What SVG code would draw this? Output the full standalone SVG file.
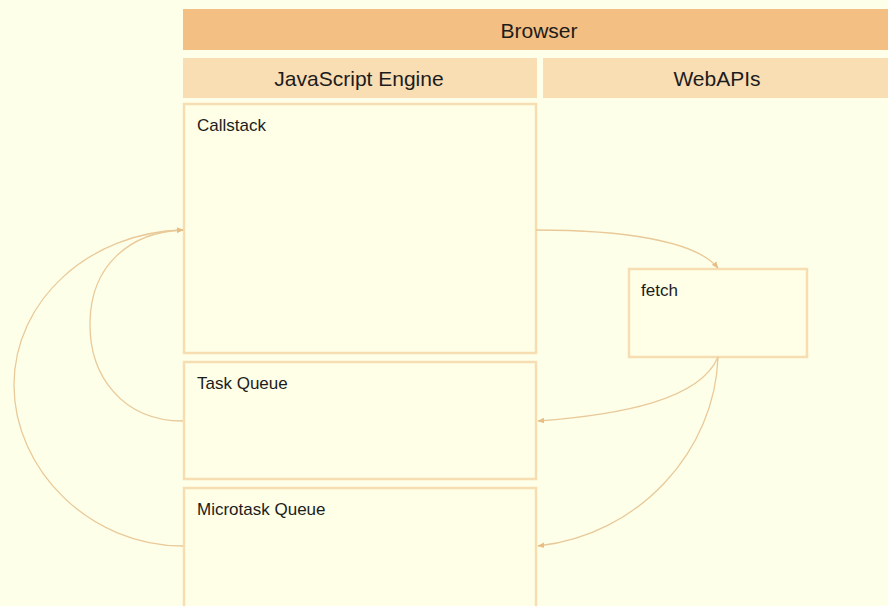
<svg xmlns="http://www.w3.org/2000/svg" width="888" height="606" viewBox="0 0 888 606">
  <defs>
    <marker id="arrow" viewBox="0 0 10 10" refX="9" refY="5" markerWidth="7" markerHeight="7" orient="auto" markerUnits="userSpaceOnUse">
      <path d="M0,1 L10,5 L0,9 z" fill="#E9BE86"/>
    </marker>
    <style>
      .hdr { font-family: "Liberation Sans", Arial, sans-serif; font-size: 21px; fill: #1c1c1c; text-anchor: middle; }
      .lbl { font-family: "Liberation Sans", Arial, sans-serif; font-size: 17px; fill: #1c1c1c; }
      .box { fill: #FEFFE6; stroke: #F6DDB2; stroke-width: 2.5; }
      .conn { fill: none; stroke: #E9C999; stroke-width: 1.3; }
    </style>
  </defs>

  <rect x="0" y="0" width="888" height="606" fill="#FEFFE8"/>

  <g id="browser">
    <rect x="183" y="9" width="705" height="41" fill="#F4BF82"/>
    <text class="hdr" x="539" y="38">Browser</text>
  </g>

  <g id="js-engine">
    <rect x="183" y="58" width="354" height="40" fill="#F9DDB3"/>
    <text class="hdr" x="359" y="86">JavaScript Engine</text>
  </g>

  <g id="webapis">
    <rect x="543" y="58" width="345" height="40" fill="#F9DDB3"/>
    <text class="hdr" x="717" y="86">WebAPIs</text>
  </g>

  <g id="callstack">
    <rect class="box" x="184" y="104" width="352" height="249"/>
    <text class="lbl" x="197" y="131">Callstack</text>
  </g>

  <g id="task-queue">
    <rect class="box" x="184" y="362" width="352" height="117"/>
    <text class="lbl" x="197" y="389">Task Queue</text>
  </g>

  <g id="microtask-queue">
    <rect class="box" x="184" y="488" width="352" height="120"/>
    <text class="lbl" x="197" y="515">Microtask Queue</text>
  </g>

  <g id="fetch">
    <rect class="box" x="629" y="269" width="178" height="88"/>
    <text class="lbl" x="641" y="296">fetch</text>
  </g>

  <g id="connectors">
    <path class="conn" d="M536,230 C620,230 695,240 718,268" marker-end="url(#arrow)"/>
    <path class="conn" d="M718,357 C700,400 620,415 538,421" marker-end="url(#arrow)"/>
    <path class="conn" d="M718,357 C715,450 640,535 538,546" marker-end="url(#arrow)"/>
    <path class="conn" d="M183,421 C122,421 89,375 90,322 C91,265 130,232 183,230" marker-end="url(#arrow)"/>
    <path class="conn" d="M183,546 C90,546 14,470 14,385 C14,300 90,232 183,230" marker-end="url(#arrow)"/>
  </g>
</svg>
